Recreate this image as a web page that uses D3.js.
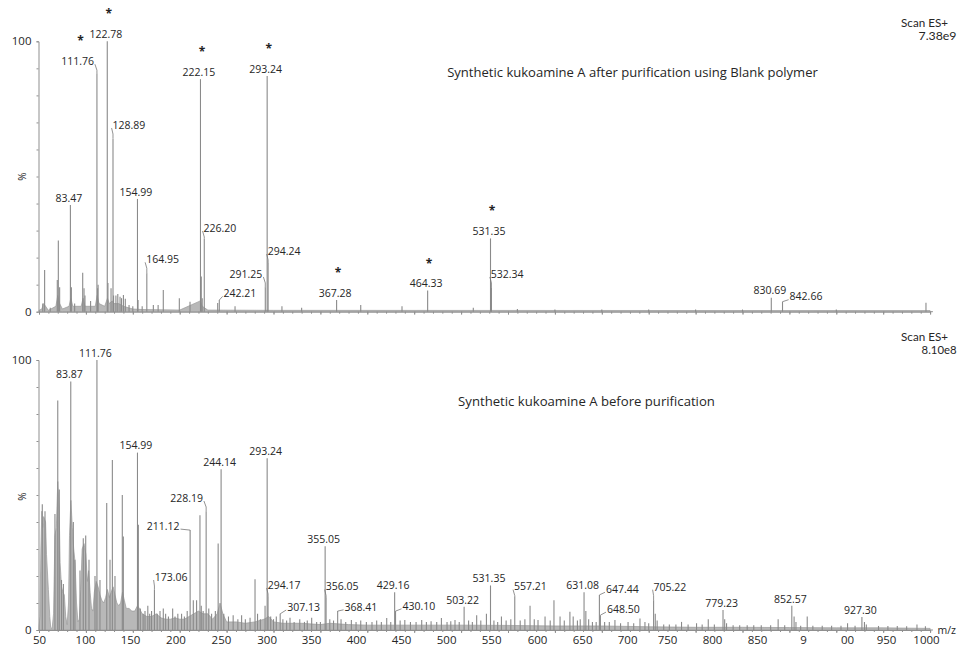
<!DOCTYPE html>
<html><head><meta charset="utf-8">
<script src="https://cdn.jsdelivr.net/npm/d3@7"></script>
<style>
body{margin:0;background:#fff;}
svg{display:block;font-family:"Open Sans","Noto Sans",sans-serif;}
</style></head>
<body><svg id="c" width="957" height="648"></svg>
<script>
// ---------------- DATA ----------------
const xTickLabels = ["50","100","150","200","250","300","350","400","450","500","550","600","650","700","750","800","850","9","00","950","1000"];
// m/z position at which each printed tick label sits on the axis
const xTickLabelAt = [50,99,147,195.5,244,292.7,340,388,436,484,532,581,629,677,719.5,767.5,815.5,864.5,911.4,953,995.6];

// Top spectrum (after purification), m/z and relative intensity %
const topMz  = [54,56,62,69.5,70.6,72,83.47,84.5,88,96.6,98,99,105,111.76,112.5,113,122.78,123.5,126.8,128.89,129.5,132,134,136.4,138,140,142,146,150,154.99,155.6,160,164.95,171.9,177,182.5,199.6,211,222.15,223,224,226.20,240.5,242.21,259,291.25,293.24,294.24,309,330,367.28,393,437,464.33,513,531.35,532.34,560,600,650,700,750,800,830.69,842.66,900,995.6];
const topVal = [3,15.4,1.5,11.7,26.3,9,39.5,9,3,14.4,8.7,6,4,88.2,8.7,10,100,10.6,8.7,64,6,6,6.5,5.5,5,6.2,4.8,2.5,2,41.7,4.3,2,14.2,2.5,2.5,8,5,3.7,86,13,5,27,3.2,4.3,2,9,87.2,18,2,1.5,4.3,2.5,2,7.8,1.5,27.1,9,1,0.8,0.8,0.8,0.8,0.8,5.2,3.7,0.8,3.3];
const topBaseMz  = [50,53,55,57,60,68,70,72,75,82,84,86,95,97,99,110,112,114,120,123,125,128,130,135,140,150,160,200,222,224,230,300,1000];
const topBaseVal = [0.5,1,3,2,0.5,2,6,3,1,2,5,2,2,5,2,2,6,3,2,5,3,4,3,3,2,1,0.8,0.6,4,2,0.6,0.5,0.4];
const topLabels = ["83.47","111.76","122.78","128.89","154.99","164.95","222.15","226.20","242.21","291.25","293.24","294.24","367.28","464.33","531.35","532.34","830.69","842.66"];
const topStarred = ["111.76","122.78","222.15","293.24","367.28","464.33","531.35"];

// Bottom spectrum (before purification)
const botMz  = [53.5,56.4,67,70,71.6,74,76,83.87,86.6,88.3,93.7,97.2,99.8,103.3,109.7,111.76,115,122.2,125.7,128.2,131,138.8,139.9,154.99,155.9,158,161,163,166,168,170,173.06,176,179,182.5,185,188,192.5,195,198,202,205,208,211.12,214.5,218,221.6,223,225,228.19,231,234,238,241,244.14,247,252,257,262,266,270,275,280.3,283,286,291,293.24,294.17,297,300,303,307.13,310,314,317.6,322,328,333,336,340.7,346,350,355.05,356.05,360,364,368.41,372,377,383,388,393,399,405,410,415,420.7,425,429.16,430.10,435,440,446,452,458,463,468,474,479,485,489,493.5,498,503.22,508,512,516.6,521,527,531.35,535,539,543,548,553,557.21,563,568,573.5,578,582,589.5,595,599,605.5,610,616,619.5,624,627,631.08,633,636,640,644,647.44,648.50,653,658,664,670,678,684,690.7,696,700,705.22,707,709,716,722,729,735,742,751,757,763.5,770,779.23,781,783,790,797,805,812,820,830,838,845,852.57,855,857,862,869,875,885,895,905,912,920,927.30,930,932,945,955,965,975,986,995];
const botVal = [46.6,44,43,85,52,18.5,17,92,40,26,22,34,35,26,20,100,18.5,47,26,63,20,50,34.6,65.7,39,8,6,7,9,6,7,15,6,7,8,6,5,8,5,6,6,5,7,37,11,11,42.5,9,7,44,8,6,7,32,59.5,6,5,5.5,4,5.5,4,4.5,18.8,6,4,9,63.6,12.5,5,4,5,6,4,3.5,4.5,3,4,3,3.5,4.5,3,3,31,12,4,3.5,7,4,3,3.7,3,3.5,3,3,3.5,3,4.4,3,14,7,3.5,3.7,3,3,3.7,3,3.2,3,4.4,3,3.2,3.7,3,8.6,3.5,3,5.5,3.5,6,16.5,3.5,3,5,3.5,4,12.5,3.5,4,9,4,3.7,5,3.5,11,5,3.5,6.8,5,3.5,4,14,7,4,3,3,13,5.5,3,3,3.7,2.5,3,2.5,4.3,3,2.5,11,6,3.5,2,2,2,3,2,2.5,2,4,2,7.4,4,2.5,1.8,1.8,1.8,1.8,1.8,1.8,4,1.8,9,5,3,1.6,5,1.6,1.6,1.6,1.6,2.5,1.6,4.8,3,2,1.5,1.5,1.5,1.4,2,1.4];
const botBaseMz  = [50,51,52,53,54,55,57,58,60,61.5,62.5,64,65.5,67,68.5,70,71.5,72.5,74,75.5,77,78.5,80,81.5,82.5,84,85.5,87,88.5,90,91.5,93,94.5,96,98,100,101.5,103,104.5,106,107.5,109,111,113,115,117,119,121,123,125,127,129,131,133,135,137,139,141,143,146,149,152,155,157,160,165,170,175,180,185,190,195,200,205,210,215,220,225,230,235,240,243,246,250,260,270,280,290,295,300,310,330,350,360,380,400,450,500,550,600,650,700,750,800,850,900,950,1000];
const botBaseVal = [1,5,30,44,38,42,40,28,15,5,1,0.5,6,35,38,55,45,25,16,14,13,5,2,10,35,48,38,30,25,10,3,4,15,30,32,28,18,22,14,8,7,14,18,16,13,11,10,12,15,12,14,16,13,10,9,10,14,11,8,8,7,7,9,8,6,5,5,6,4.5,4,4,4.5,4,4,5,6,7,6,6,4,6,10,6,3,3,2.5,3,4,5,3,2.5,2.5,2,2.5,2,1.8,1.8,1.8,1.7,1.5,1.5,1.2,1,1,0.9,0.8,0.8,0.6];
const botLabels = ["83.87","111.76","154.99","173.06","211.12","228.19","244.14","293.24","294.17","307.13","355.05","356.05","368.41","429.16","430.10","503.22","531.35","557.21","631.08","647.44","648.50","705.22","779.23","852.57","927.30"];

const panels = [
  {title:"Synthetic kukoamine A after purification using Blank polymer", scan:"Scan ES+", tic:"7.38e9",
   mz:topMz, val:topVal, baseMz:topBaseMz, baseVal:topBaseVal, labels:topLabels, starred:topStarred, showX:false},
  {title:"Synthetic kukoamine A before purification", scan:"Scan ES+", tic:"8.10e8",
   mz:botMz, val:botVal, baseMz:botBaseMz, baseVal:botBaseVal, labels:botLabels, starred:[], showX:true}
];

// ---------------- LAYOUT ----------------
const layout = [
  {y0:311.7, y1:41.3, titleX:632.5, titleW:371, titleY:76.5, scanY:26.5, ticY:39.5, ticW:38, pctY:176.5,
   leaders:{"111.76":[-19.4,-12],"128.89":[16,-13.6],"164.95":[15.7,-14],"226.20":[15.7,-10.7],
            "294.24":[16,-12],"291.25":[-19.3,-13.4],"242.21":[20.7,-6.7],"532.34":[15.8,-13.4],"842.66":[23.5,-5]}},
  {y0:630, y1:360, titleX:586.5, titleW:257, titleY:405.5, scanY:340.5, ticY:353.5, ticW:35, pctY:496.5,
   leaders:{"228.19":[-19.6,-13.2],"211.12":[-27,-4],"173.06":[16.6,-12.5],"294.17":[16,-11.3],"307.13":[23.4,-6.8],
            "356.05":[16,-11],"368.41":[23.3,-4.3],"430.10":[23.4,-5.3],"557.21":[15.7,-9.6],"647.44":[23,-5.6],
            "648.50":[23,-6],"705.22":[16.4,-13.6]}}
];

const svg = d3.select("#c");
const x = d3.scaleLinear().domain([50,1000]).range([39,930.1]);
const ink = "#262626", stick = "#8a8a8a", axisCol = "#8f8f8f";

function fitWidth(sel, target, fs0){
  sel.attr("font-size", fs0);
  const w = sel.node().getComputedTextLength();
  sel.attr("font-size", (fs0*target/w).toFixed(2));
}

panels.forEach((p,pi)=>{
  const L = layout[pi];
  const y = d3.scaleLinear().domain([0,100]).range([L.y0,L.y1]);
  const g = svg.append("g");

  // baseline envelope
  const base = p.baseMz.map((m,i)=>[m,p.baseVal[i]]);
  g.append("path").datum(base)
    .attr("d", d3.area().x(d=>x(d[0])).y0(y(0)).y1(d=>y(d[1])))
    .attr("fill","#b8b8b8").attr("stroke","#9a9a9a").attr("stroke-width",0.7);

  // sticks
  const peaks = p.mz.map((m,i)=>({mz:m, v:p.val[i]}));
  g.selectAll("line.stick").data(peaks).join("line").attr("class","stick")
    .attr("x1",d=>x(d.mz)).attr("x2",d=>x(d.mz))
    .attr("y1",y(0)).attr("y2",d=>y(d.v))
    .attr("stroke",stick).attr("stroke-width",1.1);

  // x axis (ticks)
  const ax = g.append("g").attr("transform",`translate(0,${L.y0})`)
    .call(d3.axisBottom(x).tickValues(d3.range(50,1001,10)).tickSize(2).tickSizeOuter(0).tickFormat(""));
  ax.select(".domain").attr("stroke",axisCol);
  ax.selectAll(".tick line").attr("stroke",axisCol);
  const axM = g.append("g").attr("transform",`translate(0,${L.y0})`)
    .call(d3.axisBottom(x).tickValues(d3.range(50,1001,50)).tickSize(3).tickFormat(""));
  axM.select(".domain").remove();
  axM.selectAll(".tick line").attr("stroke",axisCol);
  g.append("line").attr("x1",x(1000)).attr("x2",x(1003)).attr("y1",L.y0).attr("y2",L.y0).attr("stroke",axisCol);

  if(p.showX){
    const lab = g.append("g").attr("transform",`translate(0,${L.y0})`)
      .call(d3.axisBottom(x).tickValues(xTickLabelAt).tickSize(0).tickPadding(6.3)
        .tickFormat((d,i)=>xTickLabels[i]));
    lab.select(".domain").remove();
    lab.selectAll("text").attr("font-size",11.5).attr("fill",ink).attr("font-family","Open Sans");
    g.append("text").attr("x",956).attr("y",L.y0+3.5).attr("text-anchor","end")
      .attr("font-size",10.5).attr("fill",ink).text("m/z");
  }

  // y axis
  const ay = g.append("g").attr("transform",`translate(${x(50)-0.5},0)`)
    .call(d3.axisLeft(y).tickValues(d3.range(0,101,10)).tickSize(2).tickPadding(5)
      .tickFormat(d=> (d===0||d===100)? d : ""));
  ay.select(".domain").attr("stroke",axisCol);
  ay.selectAll(".tick line").attr("stroke",axisCol);
  ay.selectAll("text").attr("font-size",11.5).attr("fill",ink).attr("font-family","Open Sans");

  g.append("text").attr("transform",`translate(26,${L.pctY}) rotate(-90)`)
    .attr("text-anchor","middle").attr("font-size",10).attr("fill",ink).text("%");

  // title & scan info
  const tt = g.append("text").attr("x",L.titleX).attr("y",L.titleY).attr("text-anchor","middle")
    .attr("fill",ink).text(p.title);
  fitWidth(tt, L.titleW, 12);
  const sc = g.append("text").attr("x",948).attr("y",L.scanY).attr("text-anchor","end")
    .attr("fill",ink).attr("font-family","Lato").text(p.scan);
  fitWidth(sc, 47, 11);
  const tc = g.append("text").attr("x",956.5).attr("y",L.ticY).attr("text-anchor","end")
    .attr("fill",ink).attr("font-family","Lato").text(p.tic);
  fitWidth(tc, L.ticW, 11);

  // peak labels
  p.labels.forEach(t=>{
    const m = +t;
    const idx = p.mz.indexOf(m);
    const v = p.val[idx];
    const px = x(m), py = y(v);
    const off = L.leaders[t];
    const cx = px + (off? off[0] : -1.5);
    const cy = py + (off? off[1] : -7);
    const txt = g.append("text").attr("x",cx).attr("y",cy+3.8).attr("text-anchor","middle")
      .attr("font-size",10.5).attr("fill",ink).text(t);
    const w = txt.node().getComputedTextLength();
    if(off){
      const sx = off[0] < 0 ? cx + w/2 + 1 : cx - w/2 - 1;
      const sy = cy + 3;
      g.append("path").attr("d",`M${sx},${sy} L${px},${Math.min(py, sy+6)} L${px},${py}`)
        .attr("fill","none").attr("stroke","#777").attr("stroke-width",0.8);
    }
    if(p.starred.includes(t)){
      g.append("text").attr("x",cx+3).attr("y",cy-16).attr("text-anchor","middle")
        .attr("font-size",12).attr("font-weight","bold").attr("fill","#222").text("*");
    }
  });
});
</script></body></html>
